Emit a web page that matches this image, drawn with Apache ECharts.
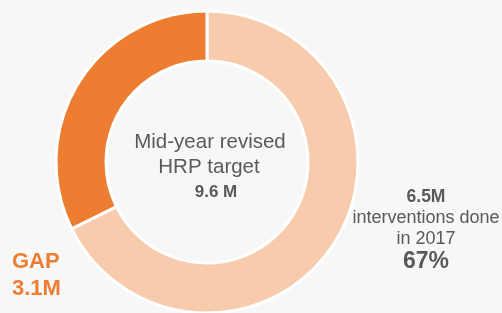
<!DOCTYPE html>
<html>
<head>
<meta charset="utf-8">
<script src="https://cdn.jsdelivr.net/npm/echarts@6/dist/echarts.min.js"></script>
<style>
  html, body { margin: 0; padding: 0; background: #f7f7f7; }
  #chart { width: 502px; height: 313px; }
</style>
</head>
<body>
<div id="chart"></div>
<script>
// data
const sliceNames = ['interventions done in 2017', 'GAP']
const sliceValues = [6.5, 3.1] // millions
const sliceColors = ['#F8CBAD', '#ED7D31']
const targetValue = 9.6
const donePercent = 67

const textColor = '#595959'
const font = '"Liberation Sans", Arial, sans-serif'

const chart = echarts.init(document.getElementById('chart'))

chart.setOption({
  backgroundColor: '#f7f7f7',
  animation: false,
  series: [{
    type: 'pie',
    center: [207, 162],
    radius: [101, 151],
    startAngle: 90,
    clockwise: true,
    silent: true,
    label: { show: false },
    labelLine: { show: false },
    itemStyle: { borderColor: '#ffffff', borderWidth: 3 },
    data: sliceNames.map((n, i) => ({
      name: n,
      value: sliceValues[i],
      itemStyle: { color: sliceColors[i] }
    }))
  }],
  graphic: [
    // center text
    { type: 'text', x: 210, y: 142, style: { text: 'Mid-year revised', font: '20.5px ' + font, fill: textColor, textAlign: 'center', textVerticalAlign: 'middle' } },
    { type: 'text', x: 209, y: 167, style: { text: 'HRP target', font: '20.5px ' + font, fill: textColor, textAlign: 'center', textVerticalAlign: 'middle' } },
    { type: 'text', x: 216, y: 192, style: { text: targetValue + ' M', font: 'bold 17px ' + font, fill: textColor, textAlign: 'center', textVerticalAlign: 'middle' } },
    // right label
    { type: 'text', x: 426, y: 197, style: { text: sliceValues[0] + 'M', font: 'bold 17.5px ' + font, fill: textColor, textAlign: 'center', textVerticalAlign: 'middle' } },
    { type: 'text', x: 426, y: 218, style: { text: 'interventions done', font: '18px ' + font, fill: textColor, textAlign: 'center', textVerticalAlign: 'middle' } },
    { type: 'text', x: 426, y: 239, style: { text: 'in 2017', font: '18px ' + font, fill: textColor, textAlign: 'center', textVerticalAlign: 'middle' } },
    { type: 'text', x: 426, y: 262, style: { text: donePercent + '%', font: 'bold 23px ' + font, fill: textColor, textAlign: 'center', textVerticalAlign: 'middle' } },
    // gap label
    { type: 'text', x: 12, y: 262, style: { text: sliceNames[1], font: 'bold 22px ' + font, fill: sliceColors[1], textAlign: 'left', textVerticalAlign: 'middle' } },
    { type: 'text', x: 12, y: 289, style: { text: sliceValues[1] + 'M', font: 'bold 22px ' + font, fill: sliceColors[1], textAlign: 'left', textVerticalAlign: 'middle' } }
  ]
})
</script>
</body>
</html>
